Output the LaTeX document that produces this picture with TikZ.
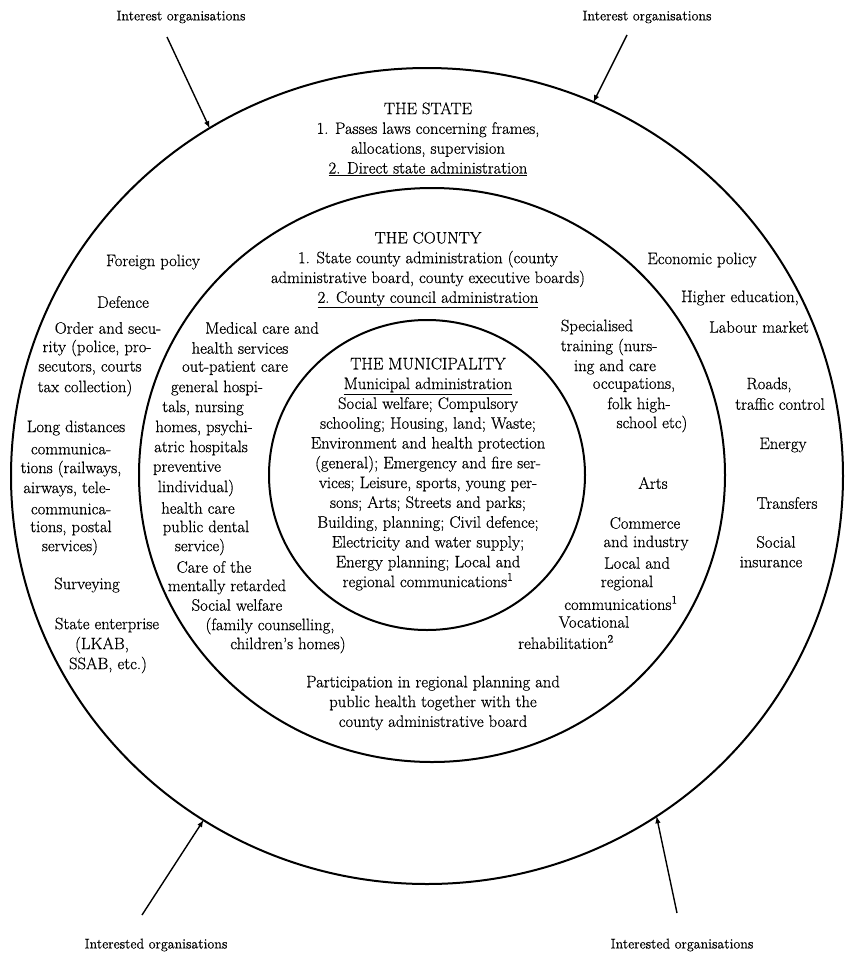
\documentclass[tikz,border=0pt]{standalone}
\usepackage{fontspec}
\setmainfont{Latin Modern Roman}[FakeBold=0.6]
\usetikzlibrary{arrows,shapes.geometric}
\tikzset{
  ring/.style={ellipse, draw=black, line width=2pt, inner sep=0pt, outer sep=0pt},
  item/.style={font=\fontsize{16.6}{19.8}\selectfont, inner sep=0pt},
  block/.style={item, align=center},
  tag/.style={font=\fontsize{14}{16}\selectfont, inner sep=0pt},
  connect/.style={-latex, line width=1.4pt}
}

\begin{document}
\begin{tikzpicture}[x=1pt, y=-1pt]
  \useasboundingbox (0,0) rectangle (845,956);

  \node[ring, minimum width=832pt, minimum height=816pt] (state) at (427,476) {};
  \node[ring, minimum width=586pt, minimum height=574pt] (county) at (432,475) {};
  \node[ring, minimum width=316pt, minimum height=310pt] (municipality) at (427,475) {};

  \node[block] (statetxt) at (428,139) {THE STATE\\
    1. Passes laws concerning frames,\\
    allocations, supervision\\
    \underline{2. Direct state administration}};
  \node[block] (countytxt) at (428,270) {THE COUNTY\\
    1. State county administration (county\\
    administrative board, county executive boards)\\
    \underline{2. County council administration}};
  \node[block] (municipalitytxt) at (428,474) {THE MUNICIPALITY\\
    \underline{Municipal administration}\\
    Social welfare; Compulsory\\
    schooling; Housing, land; Waste;\\
    Environment and health protection\\
    (general); Emergency and fire ser-\\
    vices; Leisure, sports, young per-\\
    sons; Arts; Streets and parks;\\
    Building, planning; Civil defence;\\
    Electricity and water supply;\\
    Energy planning; Local and\\
    regional communications\textsuperscript{1}};
  \node[block] (participation) at (433,703) {Participation in regional planning and\\
    public health together with the\\
    county administrative board};

  \foreach \x/\y/\t [count=\i] in {153/262/{Foreign policy}, 123/302/{Defence},
      108/328/{Order and secu-}, 97/348/{rity (police, pro-}, 90/368/{secutors, courts},
      85/388/{tax collection)}, 76/428/{Long distances}, 71/449/{communica-},
      71/469/{tions (railways,}, 67/489/{airways, tele-}, 71/509/{communica-},
      71/528/{tions, postal}, 70/547/{services)}, 87/585/{Surveying},
      107/625/{State enterprise}, 102/645/{(LKAB,}, 108/665/{SSAB, etc.)}}
    \node[item] (ol\i) at (\x,\y) {\t};

  \foreach \x/\y/\t [count=\i] in {262/328/{Medical care and}, 240/348/{health services},
      235/368/{out-patient care}, 217/388/{general hospi-}, 203/408/{tals, nursing},
      204/428/{homes, psychi-}, 201/448/{atric hospitals}, 187/468/{preventive},
      196/488/{lindividual)}, 198/508/{health care}, 206/528/{public dental},
      200/547/{service)}, 214/567/{Care of the}, 227/587/{mentally retarded},
      237/605/{Social welfare}, 270/626/{(family counselling,}, 288/645/{children's homes)}}
    \node[item] (ml\i) at (\x,\y) {\t};

  \foreach \x/\y/\t [count=\i] in {597/327/{Specialised}, 609/347/{training (nurs-},
      615/367/{ing and care}, 634/385/{occupations,}, 639/405/{folk high-},
      652/424/{school etc)}, 653/483/{Arts}, 645/523/{Commerce},
      646/543/{and industry}, 637/563/{Local and}, 627/583/{regional},
      621/603/{communications\textsuperscript{1}}, 594/622/{Vocational},
      566/642/{rehabilitation\textsuperscript{2}}}
    \node[item] (mr\i) at (\x,\y) {\t};

  \foreach \x/\y/\t [count=\i] in {702/260/{Economic policy}, 740/298/{Higher education,},
      759/327/{Labour market}, 769/385/{Roads,}, 780/404/{traffic control},
      783/445/{Energy}, 787/503/{Transfers}, 776/542/{Social}, 771/562/{insurance}}
    \node[item] (or\i) at (\x,\y) {\t};

  \node[tag] (orgtl) at (181,17) {Interest organisations};
  \node[tag] (orgtr) at (647,17) {Interest organisations};
  \node[tag] (orgbl) at (156,945) {Interested organisations};
  \node[tag] (orgbr) at (682,945) {Interested organisations};

  \coordinate (tl) at (167,37);
  \coordinate (tr) at (627,35);
  \coordinate (bl) at (142,915);
  \coordinate (br) at (677,913);
  \draw[connect] (tl) -- (state.122);
  \draw[connect] (tr) -- (state.66.5);
  \draw[connect] (bl) -- (state.237);
  \draw[connect] (br) -- (state.304);
\end{tikzpicture}
\end{document}
